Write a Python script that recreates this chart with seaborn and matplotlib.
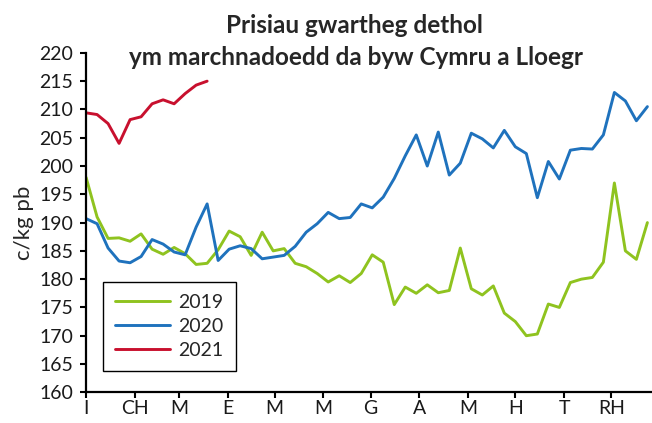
import matplotlib
matplotlib.use("Agg")
import matplotlib.pyplot as plt
import seaborn as sns
import pandas as pd

# Weekly prices, c/kg pb
years = ["2019", "2020", "2021"]
prices_2019 = [198, 191, 187.2, 187.3, 186.7, 188, 185.3, 184.4, 185.6, 184.5,
               182.6, 182.8, 185.2, 188.5, 187.5, 184.2, 188.3, 185, 185.4, 182.8,
               182.2, 181, 179.5, 180.6, 179.4, 181, 184.3, 183, 175.5, 178.6,
               177.5, 179, 177.6, 178, 185.5, 178.3, 177.2, 178.8, 174, 172.5,
               170, 170.3, 175.6, 175, 179.4, 180, 180.3, 183, 197, 185,
               183.5, 190]
prices_2020 = [190.7, 189.8, 185.5, 183.2, 182.9, 184, 187, 186.2, 184.8, 184.3,
               189.2, 193.3, 183.3, 185.3, 185.9, 185.4, 183.6, 183.9, 184.2, 185.8,
               188.3, 189.8, 191.8, 190.7, 190.9, 193.3, 192.6, 194.5, 197.8, 201.8,
               205.5, 200, 206, 198.4, 200.5, 205.8, 204.8, 203.2, 206.3, 203.4,
               202.2, 194.4, 200.8, 197.7, 202.8, 203.1, 203, 205.5, 213, 211.5,
               208, 210.5]
prices_2021 = [209.4, 209.1, 207.5, 204, 208.2, 208.7, 211, 211.7, 211, 212.8,
               214.3, 215]

month_labels = ["I", "CH", "M", "E", "M", "M", "G", "A", "M", "H", "T", "RH"]
month_start_days = [0, 31, 59, 90, 120, 151, 181, 212, 243, 273, 304, 334]

colors = {"2019": "#8fc31f", "2020": "#1f72bd", "2021": "#c8102e"}

rows = []
for yr, vals in zip(years, [prices_2019, prices_2020, prices_2021]):
    for wk, v in enumerate(vals):
        rows.append({"week": wk, "price": v, "year": yr})
df = pd.DataFrame(rows)

sns.set_style("ticks")
plt.rcParams["font.family"] = ["Lato", "DejaVu Sans"]

fig = plt.figure(figsize=(6.52, 4.23), dpi=100)
ax = fig.add_axes([0.132, 0.0726, 0.866, 0.8024])

for yr in years:
    sub = df[df["year"] == yr]
    sns.lineplot(x="week", y="price", data=sub, ax=ax, color=colors[yr],
                 linewidth=2.1, label=yr, solid_joinstyle="round",
                 solid_capstyle="round")

ax.set_xlim(0, 51.3)
ax.set_ylim(160, 220)
ax.set_yticks(range(160, 221, 5))
ax.set_xticks([d / 7 for d in month_start_days])
ax.set_xticklabels(month_labels)
ax.tick_params(axis="both", labelsize=14, length=4.3, width=1.5, color="black",
               labelcolor="#1a1a1a")
ax.tick_params(axis="y", pad=5)
ax.tick_params(axis="x", pad=1.5)
ax.set_xlabel("")
ax.set_ylabel("c/kg pb", fontsize=16, labelpad=4)

for side in ["left", "bottom"]:
    ax.spines[side].set_linewidth(1.6)
    ax.spines[side].set_color("black")
ax.spines["top"].set_visible(False)
ax.spines["right"].set_visible(False)

leg = ax.legend(loc="lower left", bbox_to_anchor=(0.03, 0.063), borderaxespad=0,
                fontsize=14, handlelength=2.8, handletextpad=0.45,
                labelspacing=0.36, borderpad=0.62, fancybox=False,
                framealpha=1, edgecolor="black")
leg.get_frame().set_linewidth(1.0)

fig.text(0.543, 1 - 33 / 423, "Prisiau gwartheg dethol", ha="center",
         va="baseline", fontsize=17.5, fontweight="bold")
fig.text(0.546, 1 - 65 / 423, "ym marchnadoedd da byw Cymru a Lloegr",
         ha="center", va="baseline", fontsize=17.5, fontweight="bold")

fig.savefig("out.png", dpi=100)
